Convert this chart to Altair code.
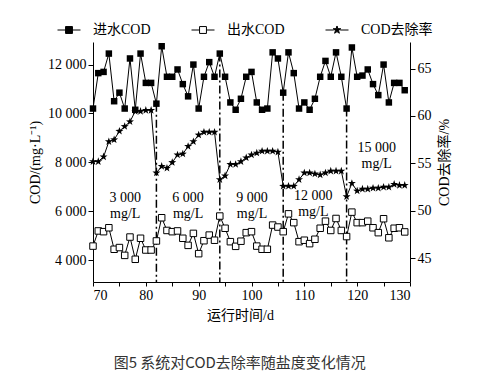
import altair as alt
import pandas as pd

# ---------------- data ----------------
days = list(range(70, 130))
influent = [10200, 11650, 11700, 12450, 10500, 10850, 10200, 12250, 10150, 12450, 11250, 11250,
            10400, 12750, 11500, 11500, 11800, 11200, 10700, 12000, 10200, 11500, 12100, 11500,
            12450, 11500, 10450, 10150, 10600, 11500, 11700, 10450, 10150, 10200, 12500, 12250,
            10850, 12500, 11650, 10200, 10450, 10150, 10600, 11500, 12150, 11500, 12500, 11500,
            10200, 12700, 11500, 11550, 11800, 11200, 10750, 12000, 10450, 11250, 11250, 10950]
effluent = [4570, 5190, 5160, 5320, 4440, 4510, 4190, 4940, 4030, 4890, 4410, 4410,
            4780, 5730, 5210, 5160, 5190, 4890, 4600, 5090, 4260, 4790, 5020, 4810,
            5800, 5300, 4750, 4560, 4770, 5120, 5160, 4570, 4440, 4440, 5430, 5350,
            5160, 5890, 5530, 4750, 4810, 4670, 4850, 5300, 5590, 5210, 5700, 5210,
            4960, 5960, 5530, 5530, 5590, 5320, 5120, 5690, 4910, 5300, 5320, 5150]
removal = [55.2, 55.2, 55.7, 57.3, 57.5, 58.4, 58.9, 59.4, 60.5, 60.5, 60.6, 60.6,
           54.0, 54.7, 54.5, 55.1, 55.9, 56.0, 56.8, 57.3, 58.0, 58.3, 58.3, 58.3,
           53.3, 53.7, 54.9, 54.9, 55.2, 55.6, 55.9, 56.1, 56.3, 56.3, 56.3, 56.2,
           52.6, 52.6, 52.6, 53.3, 54.0, 54.0, 53.9, 53.8, 54.0, 54.2, 54.2, 54.2,
           51.5, 52.9, 52.1, 52.3, 52.3, 52.4, 52.4, 52.5, 52.5, 52.8, 52.7, 52.7]

series_names = ["进水COD", "出水COD", "COD去除率"]
stage_days = [82, 94, 106, 118]
stage_labels = ["3 000", "6 000", "9 000", "12 000", "15 000"]
stage_label_days = [76.1, 88.0, 100.1, 111.7, 123.7]
stage_label_top = [6550, 6550, 6550, 6600, 8600]
stage_label_bottom = [5900, 5900, 5900, 5980, 7950]
unit_label = "mg/L"

x_ticks = list(range(70, 131, 5))
left_ticks = [4000, 6000, 8000, 10000, 12000]
right_ticks = [45, 50, 55, 60, 65]
LEFT_DOMAIN = [3100, 12924]
RIGHT_DOMAIN = [42.5, 67.8]

# ---------------- tables ----------------
df = pd.DataFrame({"day": days, "inf": influent, "eff": effluent, "rem": removal})
rules_df = pd.DataFrame({
    "day": stage_days,
    "top": [influent[days.index(d)] for d in stage_days],
    "bottom": [LEFT_DOMAIN[0]] * len(stage_days),
})
ann_rows = []
for lab, d, t, b in zip(stage_labels, stage_label_days, stage_label_top, stage_label_bottom):
    ann_rows.append({"day": d, "val": t, "txt": lab})
    ann_rows.append({"day": d, "val": b, "txt": unit_label})
ann_df = pd.DataFrame(ann_rows)
legend_df = pd.DataFrame({"series": series_names, "day": [days[0]] * 3, "val": [influent[0]] * 3})

SERIF = "Liberation Serif, Noto Sans CJK SC, serif"

STAR = ("M0,-1L0.235,-0.324L0.951,-0.309L0.38,0.124L0.588,0.809L0,0.4"
        "L-0.588,0.809L-0.38,0.124L-0.951,-0.309L-0.235,-0.324Z")
LEG_SQ = "M-1,0H-0.3M0.3,0H1M-0.3,-0.3H0.3V0.3H-0.3Z"
LEG_STAR = ("M-1,0H-0.28M0.28,0H1"
            "M0,-0.35L0.082,-0.113L0.333,-0.108L0.133,0.043L0.206,0.283L0,0.14"
            "L-0.206,0.283L-0.133,0.043L-0.333,-0.108L-0.082,-0.113Z")

xs = alt.X("day:Q", scale=alt.Scale(domain=[70, 130], nice=False, zero=False),
           axis=alt.Axis(values=x_ticks, title="运行时间/d", format="d", tickSize=4,
                         labelPadding=2, titlePadding=6, titleX=147))
yL_scale = alt.Scale(domain=LEFT_DOMAIN, nice=False, zero=False)
yL_axis = alt.Axis(values=left_ticks, title="COD/(mg·L⁻¹)",
                   labelExpr="replace(format(datum.value, ','), ',', ' ')",
                   tickSize=5, labelPadding=2, titlePadding=5)
yR = alt.Y("rem:Q", scale=alt.Scale(domain=RIGHT_DOMAIN, nice=False, zero=False),
           axis=alt.Axis(orient="right", values=right_ticks, title="COD去除率/%",
                         tickSize=5, labelPadding=2, titlePadding=6,
                         titleAngle=270, titleBaseline="top"))

base = alt.Chart(df)

inf_line = base.mark_line(color="black", strokeWidth=1).encode(
    x=xs, y=alt.Y("inf:Q", scale=yL_scale, axis=yL_axis))
inf_pts = base.mark_point(shape="square", filled=True, color="black", size=42, opacity=1).encode(
    x=xs, y=alt.Y("inf:Q", scale=yL_scale, axis=yL_axis))
eff_line = base.mark_line(color="black", strokeWidth=1).encode(
    x=xs, y=alt.Y("eff:Q", scale=yL_scale, axis=yL_axis))
eff_pts = base.mark_point(shape="square", filled=True, fill="white", stroke="black",
                          strokeWidth=1, size=42, opacity=1).encode(
    x=xs, y=alt.Y("eff:Q", scale=yL_scale, axis=yL_axis))
rules = alt.Chart(rules_df).mark_rule(color="black", strokeWidth=1.5,
                                      strokeDash=[8, 3, 2, 3]).encode(
    x=xs, y=alt.Y("top:Q", scale=yL_scale, axis=yL_axis), y2="bottom:Q")
texts = alt.Chart(ann_df).mark_text(font=SERIF, fontSize=14, color="black",
                                    baseline="middle", align="center").encode(
    x=xs, y=alt.Y("val:Q", scale=yL_scale, axis=yL_axis), text="txt:N")

leg = alt.Legend(title=None, orient="none", legendX=-36, legendY=-24, direction="horizontal",
                 gridAlign="all", columnPadding=24, labelOffset=12, symbolSize=529,
                 symbolOpacity=1, symbolStrokeColor="black", symbolStrokeWidth=1,
                 labelFont=SERIF, labelFontSize=14, labelColor="black")
legend_layer = alt.Chart(legend_df).mark_point(filled=True, strokeWidth=1,
                                               opacity=0).encode(
    x=xs, y=alt.Y("val:Q", scale=yL_scale, axis=yL_axis),
    shape=alt.Shape("series:N", scale=alt.Scale(domain=series_names,
                                                range=[LEG_SQ, LEG_SQ, LEG_STAR]),
                    legend=leg, sort=series_names),
    fill=alt.Fill("series:N", scale=alt.Scale(domain=series_names,
                                              range=["black", "white", "black"]),
                  legend=leg, sort=series_names),
    stroke=alt.Stroke("series:N", scale=alt.Scale(domain=series_names,
                                                  range=["black", "black", "black"]),
                      legend=leg, sort=series_names),
)

left = alt.layer(inf_line, eff_line, rules, inf_pts, eff_pts, texts, legend_layer)

rem_line = base.mark_line(color="black", strokeWidth=1).encode(x=xs, y=yR)
rem_pts = base.mark_point(shape=STAR, filled=True, color="black", size=70, opacity=1).encode(
    x=xs, y=yR)
right = alt.layer(rem_line, rem_pts)

chart = alt.layer(left, right).resolve_scale(y="independent").properties(
    width=317, height=240,
    autosize=alt.AutoSizeParams(type="none"),
    padding={"left": 85, "top": 34, "right": 60, "bottom": 95},
    title=alt.TitleParams(text="图5 系统对COD去除率随盐度变化情况", orient="bottom",
                          anchor="middle", frame="bounds", font="Noto Sans CJK SC",
                          fontSize=15, fontWeight="normal", color="#333333", offset=34),
).configure_view(stroke=None).configure_axis(
    grid=False, domainColor="black", tickColor="black", labelColor="black",
    titleColor="black", labelFont=SERIF, titleFont=SERIF, labelFontSize=14,
    titleFontSize=14, titleFontWeight="normal", domainWidth=1, tickWidth=1,
)

chart.save("out.html", embed_options={"renderer": "svg", "actions": False})
